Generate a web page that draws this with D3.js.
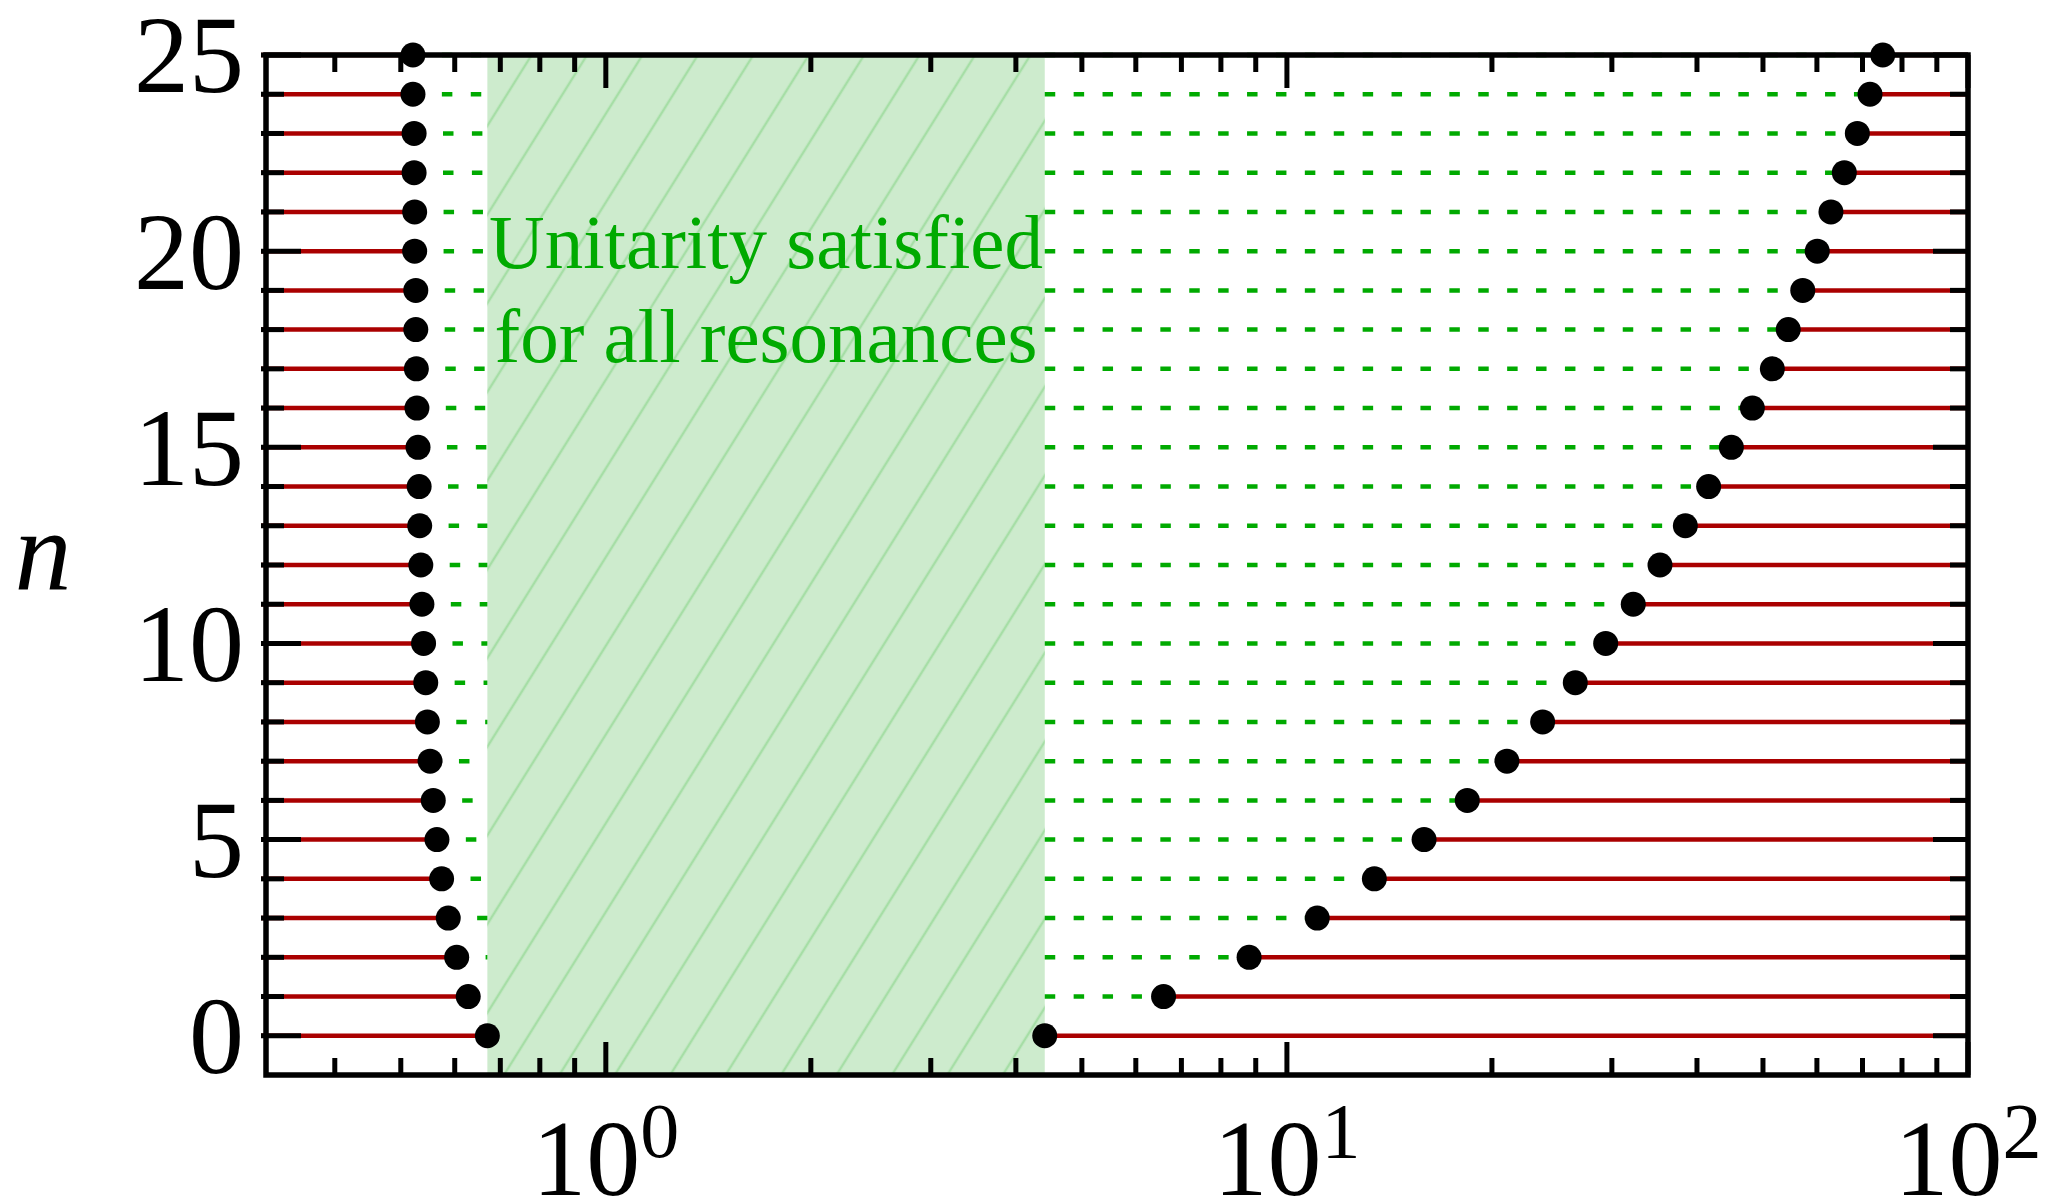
<!DOCTYPE html>
<html>
<head>
<meta charset="utf-8">
<script src="https://cdn.jsdelivr.net/npm/d3@7"></script>
<style>
  html, body { margin: 0; padding: 0; background: #fff; }
  text { font-family: "Liberation Serif", "DejaVu Serif", serif; }
</style>
</head>
<body>
<div id="chart"></div>
<script>
// resonance index
const nValues = [0, 1, 2, 3, 4, 5, 6, 7, 8, 9, 10, 11, 12, 13, 14, 15, 16, 17, 18, 19, 20, 21, 22, 23, 24, 25];
// lower edge of the allowed window for each n
const lowerEdge = [0.670, 0.628, 0.604, 0.587, 0.574, 0.565, 0.558, 0.552, 0.547, 0.544, 0.540, 0.537, 0.535,
                   0.533, 0.532, 0.530, 0.528, 0.527, 0.526, 0.526, 0.524, 0.524, 0.523, 0.523, 0.521, 0.521];
// upper edge of the allowed window for each n
const upperEdge = [4.41, 6.59, 8.80, 11.08, 13.44, 15.90, 18.40, 21.04, 23.74, 26.51, 29.38, 32.25, 35.30,
                   38.46, 41.61, 44.93, 48.24, 51.61, 54.46, 57.20, 60.07, 62.92, 65.83, 68.79, 71.80, 74.96];

const xDomain = [0.317, 100];
const yDomain = [-1, 25];
const xMajorTicks = [1, 10, 100];
const xTickLabels = ['0', '1', '2'];
const xMinorTicks = [0.4, 0.5, 0.6, 0.7, 0.8, 0.9, 2, 3, 4, 5, 6, 7, 8, 9, 20, 30, 40, 50, 60, 70, 80, 90];
const yMajorTicks = [0, 5, 10, 15, 20, 25];
const annotation = ['Unitarity satisfied', 'for all resonances'];

const width = 2047, height = 1203;
const margin = { left: 266, right: 79, top: 55, bottom: 128 };
const red = '#aa0000', green = '#00aa00';

const svg = d3.select('#chart').append('svg')
    .attr('width', width)
    .attr('height', height);

const x = d3.scaleLog().domain(xDomain).range([margin.left, width - margin.right]);
const y = d3.scaleLinear().domain(yDomain).range([height - margin.bottom, margin.top]);

const x0 = x.range()[0], x1 = x.range()[1];
const yTop = y.range()[1], yBot = y.range()[0];

// shaded region spans the n = 0 window
const shade = [lowerEdge[0], upperEdge[0]];

const defs = svg.append('defs');
defs.append('pattern')
    .attr('id', 'hatch')
    .attr('patternUnits', 'userSpaceOnUse')
    .attr('width', 47)
    .attr('height', 47)
    .attr('patternTransform', 'rotate(32)')
    .append('line')
    .attr('x1', 10).attr('y1', 0)
    .attr('x2', 10).attr('y2', 47)
    .attr('stroke', '#a6dea6')
    .attr('stroke-width', 2.5);

svg.append('rect')
    .attr('x', x(shade[0]))
    .attr('y', yTop)
    .attr('width', x(shade[1]) - x(shade[0]))
    .attr('height', yBot - yTop)
    .attr('fill', '#cdebcd');
svg.append('rect')
    .attr('x', x(shade[0]))
    .attr('y', yTop)
    .attr('width', x(shade[1]) - x(shade[0]))
    .attr('height', yBot - yTop)
    .attr('fill', 'url(#hatch)');

// red: excluded ranges
svg.append('g').selectAll('line')
    .data(nValues)
    .join('line')
    .attr('x1', x0 - 5)
    .attr('x2', (d, i) => x(lowerEdge[i]))
    .attr('y1', d => y(d))
    .attr('y2', d => y(d))
    .attr('stroke', red)
    .attr('stroke-width', 4.5);
svg.append('g').selectAll('line')
    .data(nValues)
    .join('line')
    .attr('x1', (d, i) => x(upperEdge[i]))
    .attr('x2', x1)
    .attr('y1', d => y(d))
    .attr('y2', d => y(d))
    .attr('stroke', red)
    .attr('stroke-width', 4.5);

// green dashed: allowed ranges outside the common window
svg.append('g').selectAll('line')
    .data(nValues.filter(d => d > 0))
    .join('line')
    .attr('x1', d => x(lowerEdge[d]))
    .attr('x2', x(shade[0]))
    .attr('y1', d => y(d))
    .attr('y2', d => y(d))
    .attr('stroke', green)
    .attr('stroke-width', 4.5)
    .attr('stroke-dasharray', '10.5 18.4');
svg.append('g').selectAll('line')
    .data(nValues.filter(d => d > 0))
    .join('line')
    .attr('x1', x(shade[1]))
    .attr('x2', d => x(upperEdge[d]))
    .attr('y1', d => y(d))
    .attr('y2', d => y(d))
    .attr('stroke', green)
    .attr('stroke-width', 4.5)
    .attr('stroke-dasharray', '10.5 18.4');

// frame
svg.append('rect')
    .attr('x', x0).attr('y', yTop)
    .attr('width', x1 - x0).attr('height', yBot - yTop)
    .attr('fill', 'none')
    .attr('stroke', '#000')
    .attr('stroke-width', 5.5);

// ticks
const ticks = svg.append('g').attr('stroke', '#000').attr('stroke-width', 5);
xMinorTicks.concat(xMajorTicks).forEach(v => {
    const len = xMajorTicks.includes(v) ? 33 : 17;
    ticks.append('line').attr('x1', x(v)).attr('x2', x(v)).attr('y1', yBot).attr('y2', yBot - len);
    ticks.append('line').attr('x1', x(v)).attr('x2', x(v)).attr('y1', yTop).attr('y2', yTop + len);
});
nValues.forEach(v => {
    const len = yMajorTicks.includes(v) ? 35 : 18;
    ticks.append('line').attr('x1', x0 - 5).attr('x2', x0 + len).attr('y1', y(v)).attr('y2', y(v));
    ticks.append('line').attr('x1', x1).attr('x2', x1 - len).attr('y1', y(v)).attr('y2', y(v));
});

// tick labels
svg.append('g').selectAll('text')
    .data(yMajorTicks)
    .join('text')
    .attr('x', x0 - 22)
    .attr('y', d => y(d))
    .attr('dy', '0.34em')
    .attr('text-anchor', 'end')
    .attr('font-size', 110)
    .text(d => d);

const xl = svg.append('g').selectAll('text')
    .data(xMajorTicks)
    .join('text')
    .attr('x', d => x(d))
    .attr('y', 1195)
    .attr('text-anchor', 'middle')
    .attr('font-size', 108);
xl.append('tspan').text('10');
xl.append('tspan').attr('dy', -38).attr('font-size', 78).text((d, i) => xTickLabels[i]);

// axis title
svg.append('text')
    .attr('x', 43)
    .attr('y', 590)
    .attr('text-anchor', 'middle')
    .attr('font-size', 114)
    .attr('font-style', 'italic')
    .text('n');

// annotation
svg.append('g').selectAll('text')
    .data(annotation)
    .join('text')
    .attr('x', (x(shade[0]) + x(shade[1])) / 2)
    .attr('y', (d, i) => 268 + i * 94)
    .attr('text-anchor', 'middle')
    .attr('font-size', 77)
    .attr('fill', green)
    .text(d => d);

// resonance points
const dots = svg.append('g').attr('fill', '#000');
dots.selectAll('circle.lo')
    .data(nValues)
    .join('circle')
    .attr('class', 'lo')
    .attr('cx', (d, i) => x(lowerEdge[i]))
    .attr('cy', d => y(d))
    .attr('r', 12.5);
dots.selectAll('circle.hi')
    .data(nValues)
    .join('circle')
    .attr('class', 'hi')
    .attr('cx', (d, i) => x(upperEdge[i]))
    .attr('cy', d => y(d))
    .attr('r', 12.5);
</script>
</body>
</html>
